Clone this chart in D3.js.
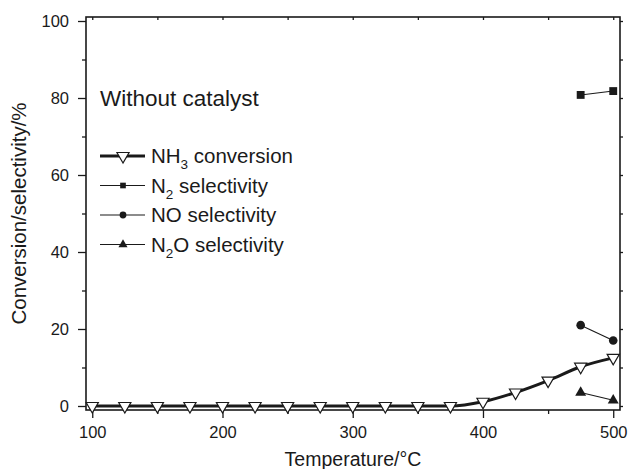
<!DOCTYPE html>
<html>
<head>
<meta charset="utf-8">
<script src="https://cdn.jsdelivr.net/npm/d3@7"></script>
<style>
  body { margin: 0; background: #fff; }
  svg text { font-family: "Liberation Sans", Arial, sans-serif; fill: #1a1a1a; }
</style>
</head>
<body>
<svg id="chart" width="628" height="469"></svg>
<script>
// temperatures (°C)
const temps = [100, 125, 150, 175, 200, 225, 250, 275, 300, 325, 350, 375, 400, 425, 450, 475, 500];
const nh3Conversion = [0, 0, 0, 0, 0, 0, 0, 0, 0, 0, 0, 0, 1.1, 3.5, 6.6, 10.2, 12.5];
const selTemps = [475, 500];
const n2Selectivity = [80.8, 81.8];
const noSelectivity = [21.0, 17.0];
const n2oSelectivity = [3.5, 1.5];
const xTicks = [100, 200, 300, 400, 500];
const yTicks = [0, 20, 40, 60, 80, 100];

const svg = d3.select("#chart");
const margin = { top: 17, right: 8, bottom: 59, left: 86 };
const width = 628, height = 469;

const x = d3.scaleLinear().domain([95.2, 505.2]).range([margin.left, width - margin.right]);
const y = d3.scaleLinear().domain([-1.04, 101.04]).range([height - margin.bottom, margin.top]);

const ink = "#1a1a1a";

// bottom axis: major + minor ticks
const bottom = svg.append("g").attr("transform", `translate(0,${height - margin.bottom})`);
bottom.call(d3.axisBottom(x).tickValues(xTicks).tickSize(8).tickPadding(8));
bottom.append("g").call(d3.axisBottom(x).tickValues([150, 250, 350, 450]).tickSize(4).tickFormat(""));

// left axis
const left = svg.append("g").attr("transform", `translate(${margin.left},0)`);
left.call(d3.axisLeft(y).tickValues(yTicks).tickSize(8).tickPadding(9));
left.append("g").call(d3.axisLeft(y).tickValues([10, 30, 50, 70, 90]).tickSize(4).tickFormat(""));

// top and right small ticks
svg.append("g").attr("transform", `translate(0,${margin.top})`)
  .call(d3.axisTop(x).tickValues(d3.range(100, 501, 50)).tickSize(-3).tickFormat(""));
svg.append("g").attr("transform", `translate(${width - margin.right},0)`)
  .call(d3.axisRight(y).tickValues(d3.range(0, 101, 10)).tickSize(3).tickFormat(""));

svg.selectAll(".domain").remove();
svg.selectAll(".tick line").attr("stroke", ink).attr("stroke-width", 1.3);
svg.selectAll(".tick text").attr("font-size", 16.5).attr("fill", ink);

// frame
svg.append("rect")
  .attr("x", margin.left).attr("y", margin.top)
  .attr("width", width - margin.left - margin.right)
  .attr("height", height - margin.top - margin.bottom)
  .attr("fill", "none").attr("stroke", ink).attr("stroke-width", 1.6);

// axis titles
svg.append("text")
  .attr("x", (margin.left + width - margin.right) / 2).attr("y", 466)
  .attr("text-anchor", "middle").attr("font-size", 19.5)
  .text("Temperature/°C");
svg.append("text")
  .attr("transform", `translate(26,${(margin.top + height - margin.bottom) / 2}) rotate(-90)`)
  .attr("text-anchor", "middle").attr("font-size", 20.5)
  .text("Conversion/selectivity/%");

// series lines
const smooth = d3.line().x((d, i) => x(temps[i])).y(d => y(d)).curve(d3.curveMonotoneX);
svg.append("path").datum(nh3Conversion)
  .attr("fill", "none").attr("stroke", ink).attr("stroke-width", 3).attr("d", smooth);

const straight = d3.line().x((d, i) => x(selTemps[i])).y(d => y(d));
[n2Selectivity, noSelectivity, n2oSelectivity].forEach(s => {
  svg.append("path").datum(s)
    .attr("fill", "none").attr("stroke", ink).attr("stroke-width", 1.1).attr("d", straight);
});

const downTri = d3.symbol().type(d3.symbolTriangle).size(64);
const sq = d3.symbol().type(d3.symbolSquare).size(62);
const circ = d3.symbol().type(d3.symbolCircle).size(58);
const upTri = d3.symbol().type(d3.symbolTriangle).size(52);

svg.append("g").selectAll("path").data(nh3Conversion).join("path")
  .attr("transform", (d, i) => `translate(${x(temps[i])},${y(d)}) rotate(180)`)
  .attr("d", downTri).attr("fill", "#fff").attr("stroke", ink).attr("stroke-width", 1.2);

function dots(series, gen) {
  svg.append("g").selectAll("path").data(series).join("path")
    .attr("transform", (d, i) => `translate(${x(selTemps[i])},${y(d)})`)
    .attr("d", gen).attr("fill", ink);
}
dots(n2Selectivity, sq);
dots(noSelectivity, circ);
dots(n2oSelectivity, upTri);

// annotation
svg.append("text").attr("x", 100).attr("y", 106).attr("font-size", 22.5).text("Without catalyst");

// legend
const legend = [
  { main: "NH", sub: "3", rest: " conversion", sym: downTri, sw: 3, fill: "#fff", rot: 180 },
  { main: "N", sub: "2", rest: " selectivity", sym: d3.symbol().type(d3.symbolSquare).size(32), sw: 1.1, fill: ink, rot: 0 },
  { main: "NO", sub: "", rest: " selectivity", sym: d3.symbol().type(d3.symbolCircle).size(36), sw: 1.1, fill: ink, rot: 0 },
  { main: "N", sub: "2", rest: "O selectivity", sym: d3.symbol().type(d3.symbolTriangle).size(36), sw: 1.1, fill: ink, rot: 0 }
];
const lg = svg.append("g").attr("transform", "translate(100,156)");
legend.forEach((e, i) => {
  const row = lg.append("g").attr("transform", `translate(0,${i * 29.5})`);
  row.append("line").attr("x1", 0).attr("x2", 45).attr("stroke", ink).attr("stroke-width", e.sw);
  row.append("path").attr("d", e.sym).attr("transform", `translate(23,0) rotate(${e.rot})`)
    .attr("fill", e.fill).attr("stroke", ink).attr("stroke-width", e.rot ? 1.2 : 0);
  const t = row.append("text").attr("x", 51).attr("y", 7).attr("font-size", 20.5);
  t.append("tspan").text(e.main);
  if (e.sub) t.append("tspan").attr("font-size", 13.5).attr("dy", 6).text(e.sub);
  t.append("tspan").attr("dy", e.sub ? -6 : 0).text(e.rest);
});
</script>
</body>
</html>
